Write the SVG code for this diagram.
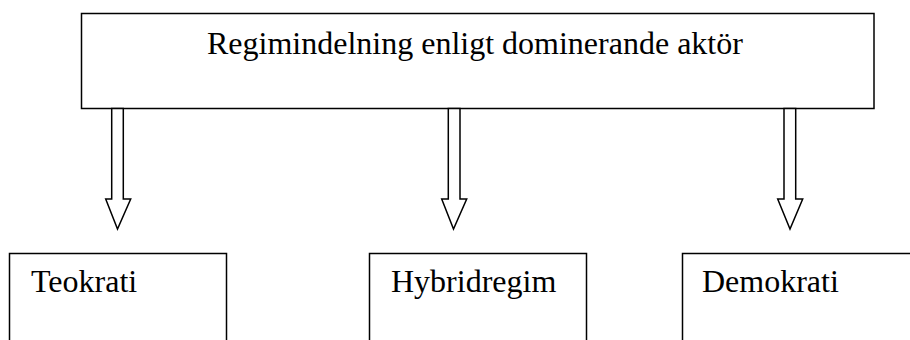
<svg xmlns="http://www.w3.org/2000/svg" width="910" height="340" viewBox="0 0 910 340">
<style>
.box{fill:#fff;stroke:#000;stroke-width:1.5}
.arr{fill:#fff;stroke:#000;stroke-width:1.5;stroke-linejoin:miter}
.t{font-family:"Liberation Serif","Times New Roman",serif;font-size:32px;fill:#000}
</style>
<rect width="910" height="340" fill="#fff"/>
<g id="top">
<rect class="box" x="81.5" y="13.5" width="792.5" height="95"/>
<text class="t" x="207" y="54">Regimindelning enligt dominerande aktör</text>
</g>
<g id="connectors">
<polygon class="arr" points="111.7,108.5 123.3,108.5 123.3,199 130.7,199 117.5,229 105.7,199 111.7,199"/>
<polygon class="arr" points="448.3,108.5 460,108.5 460,199 466.7,199 453.5,229 441.7,199 448.3,199"/>
<polygon class="arr" points="784,108.5 795.7,108.5 795.7,199 802.7,199 790,229 777.7,199 784,199"/>
</g>
<g id="teokrati">
<rect class="box" x="9.5" y="253.5" width="217" height="100"/>
<text class="t" x="31" y="292">Teokrati</text>
</g>
<g id="hybridregim">
<rect class="box" x="369.5" y="253.5" width="217" height="100"/>
<text class="t" x="391" y="292">Hybridregim</text>
</g>
<g id="demokrati">
<rect class="box" x="682.5" y="253.5" width="240" height="100"/>
<text class="t" x="702" y="292">Demokrati</text>
</g>
</svg>
